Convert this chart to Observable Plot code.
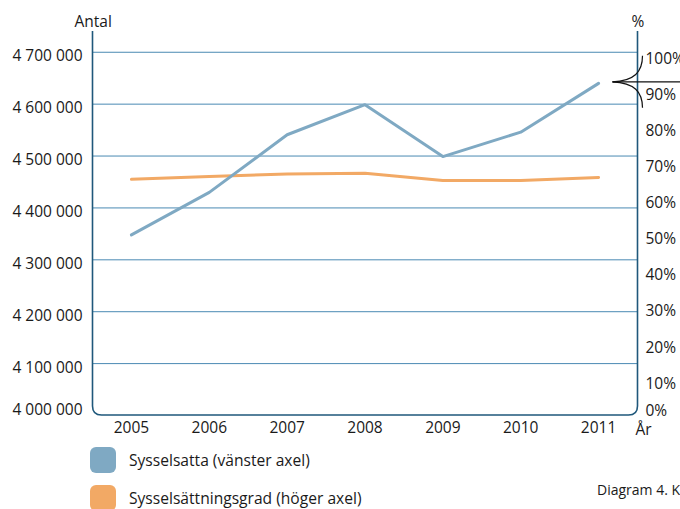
<!DOCTYPE html>
<html>
<head>
<meta charset="utf-8">
<script src="https://cdn.jsdelivr.net/npm/d3@7"></script>
<script src="https://cdn.jsdelivr.net/npm/@observablehq/plot@0.6"></script>
<style>
  html, body { margin: 0; padding: 0; background: #fff; overflow: hidden; }
  #wrap { position: relative; width: 680px; height: 509px; overflow: hidden; font-family: "Open Sans", sans-serif; color: #1a1a1a; }
  #chart { position: absolute; left: 0; top: 0; }
  .leg { position: absolute; left: 90px; display: flex; align-items: center; font-size: 15.6px; white-space: nowrap; }
  .sw { width: 26px; height: 26px; border-radius: 6px; margin-right: 13px; }
  #caption { position: absolute; left: 597px; top: 480px; font-size: 14px; white-space: nowrap; }
</style>
</head>
<body>
<div id="wrap">
  <div id="chart"></div>
  <div class="leg" id="leg1" style="top:447px"><div class="sw" style="background:#7fa9c3"></div><span>Sysselsatta (vänster axel)</span></div>
  <div class="leg" id="leg2" style="top:485px"><div class="sw" style="background:#f2a965"></div><span>Sysselsättningsgrad (höger axel)</span></div>
  <div id="caption">Diagram 4. Källa: SCB</div>
</div>
<script>
// ---- data ----
const years = [2005, 2006, 2007, 2008, 2009, 2010, 2011];
const sysselsatta = [4348000, 4430000, 4541000, 4599000, 4499000, 4546000, 4640000];
const sysselsattningsgrad = [66.6, 67.4, 68.1, 68.3, 66.3, 66.3, 67.1];
const leftTicks = [4000000, 4100000, 4200000, 4300000, 4400000, 4500000, 4600000, 4700000];
const rightTicks = [0, 10, 20, 30, 40, 50, 60, 70, 80, 90, 100];

// ---- layout ----
const W = 680, H = 440;
const mTop = 31, mBottom = 25, mLeft = 92, mRight = 43;
const yDomain = [4000000, 4740000];

// right axis (%) expressed in left-axis units
const pct = d3.scaleLinear([0, 100], [3991700, 4687400]);

const fmtLeft = d => d3.format(",")(d).replace(/,/g, " ");

const blueData = years.map((y, i) => ({year: y, value: sysselsatta[i]}));
const orangeData = years.map((y, i) => ({year: y, value: pct(sysselsattningsgrad[i])}));

const frameColor = "#1f587b";

function decor(index, scales, values, dim) {
  const g = d3.create("svg:g");
  const L = dim.marginLeft + 0.5, R = dim.width - dim.marginRight + 0.5;
  const T = dim.marginTop, B = dim.height - dim.marginBottom;
  const r = 9;
  g.append("path")
    .attr("d", `M${L},${T}V${B - r}Q${L},${B} ${L + r},${B}H${R - r}Q${R},${B} ${R},${B - r}V${T}`)
    .attr("fill", "none").attr("stroke", frameColor).attr("stroke-width", 1.6);
  // axis break symbol on right axis
  const ys = d3.scaleLinear(yDomain, [B, T]);
  const cy = ys(4642000), tx = R - 25;
  const b = g.append("g").attr("fill", "none").attr("stroke", "#111").attr("stroke-width", 1.2);
  b.append("path").attr("d", `M${tx},${cy}H${W}`);
  b.append("path").attr("d", `M${tx},${cy}C${tx + 22},${cy - 1} ${R + 5},${cy - 10} ${R + 5},${cy - 26}`);
  b.append("path").attr("d", `M${tx},${cy}C${tx + 22},${cy + 1} ${R + 5},${cy + 10} ${R + 5},${cy + 26}`);
  return g.node();
}

const font = "Open Sans";
const fs = 15.5;
const chart = Plot.plot({
  width: W, height: H,
  marginTop: mTop, marginBottom: mBottom, marginLeft: mLeft, marginRight: mRight,
  style: {fontFamily: font, fontSize: fs + "px", color: "#1a1a1a", background: "transparent", overflow: "visible"},
  x: {domain: [2004.5, 2011.5], axis: null},
  y: {domain: yDomain, axis: null},
  marks: [
    Plot.ruleY(leftTicks.slice(1), {stroke: "#4a89b3", strokeWidth: 1}),
    Plot.axisY(leftTicks.slice(1), {anchor: "left", tickSize: 0, tickPadding: 10, dy: 4, tickFormat: fmtLeft, label: null, fontSize: fs}),
    Plot.axisY([leftTicks[0]], {anchor: "left", tickSize: 0, tickPadding: 10, dy: -5, tickFormat: fmtLeft, label: null, fontSize: fs}),
    Plot.axisY(rightTicks.slice(1).map(pct), {anchor: "right", tickSize: 0, tickPadding: 8, tickFormat: (d, i) => rightTicks[i + 1] + "%", label: null, fontSize: fs}),
    Plot.axisY([pct(0)], {anchor: "right", tickSize: 0, tickPadding: 8, dy: -9, tickFormat: () => "0%", label: null, fontSize: fs}),
    Plot.axisX(years, {anchor: "bottom", tickSize: 0, tickPadding: 6, tickFormat: d => String(d), label: null, fontSize: fs}),
    Plot.text(["Antal"], {frameAnchor: "top-left", textAnchor: "start", lineAnchor: "bottom", dx: -18, dy: -5, fontSize: fs}),
    Plot.text(["%"], {frameAnchor: "top-right", textAnchor: "start", lineAnchor: "bottom", dx: -6, dy: -5, fontSize: fs}),
    Plot.text(["År"], {frameAnchor: "bottom-right", textAnchor: "start", lineAnchor: "top", dx: -2, dy: 8, fontSize: fs}),
    Plot.line(orangeData, {x: "year", y: "value", stroke: "#f2a965", strokeWidth: 3}),
    Plot.line(blueData, {x: "year", y: "value", stroke: "#7fa9c3", strokeWidth: 3}),
    decor
  ]
});
document.getElementById("chart").appendChild(chart);
</script>
</body>
</html>
